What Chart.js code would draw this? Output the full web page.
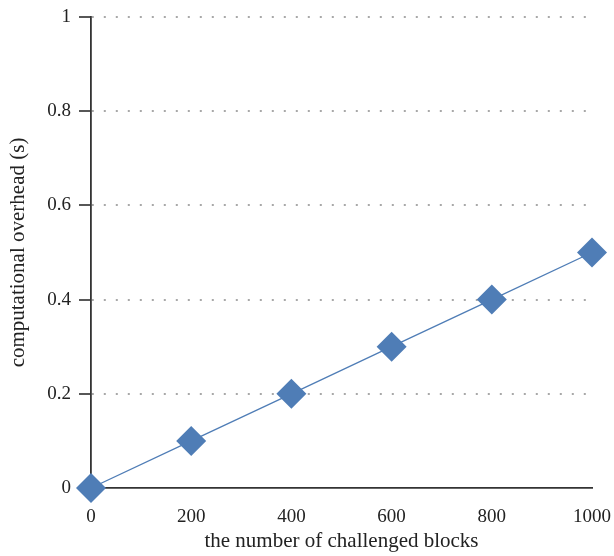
<!DOCTYPE html>
<html><head><meta charset="utf-8">
<script src="https://cdn.jsdelivr.net/npm/chart.js@4"></script>
<style>html,body{margin:0;padding:0;background:#fff}#wrap{width:614px;height:556px}</style>
</head><body><div id="wrap"><canvas id="c" width="614" height="556"></canvas></div>
<script>
const blocks = [0, 200, 400, 600, 800, 1000];
const overhead = [0, 0.1, 0.2, 0.3, 0.4, 0.5];
const yTicks = [0, 0.2, 0.4, 0.6, 0.8, 1];
const xTicks = [0, 200, 400, 600, 800, 1000];
const FONT = "'Liberation Serif', 'DejaVu Serif', serif";
const blue = '#4f7db6';
new Chart(document.getElementById('c'), {
  type: 'line',
  data: { datasets: [{
    data: blocks.map((b, i) => ({x: b, y: overhead[i]})),
    borderColor: blue, borderWidth: 1.3, backgroundColor: blue,
    pointStyle: 'rectRot', pointRadius: 15, pointHoverRadius: 15,
    pointBorderWidth: 0, clip: false, tension: 0
  }]},
  options: {
    responsive: false, animation: false,
    plugins: { legend: {display: false}, tooltip: {enabled: false} },
    layout: { padding: { left: 0, right: 22, top: 17, bottom: 0 } },
    scales: {
      x: {
        type: 'linear', min: 0, max: 1000,
        afterBuildTicks: s => { s.ticks = xTicks.map(v => ({value: v})); },
        afterFit: s => { s.height = 68; s.paddingLeft = 0; s.paddingRight = 0; },
        border: { display: true, color: '#333', width: 1.8 },
        grid: { display: false, drawTicks: false },
        ticks: { color: '#222', font: { family: FONT, size: 19 }, padding: 18, maxRotation: 0,
                 callback: v => String(v) },
        title: { display: true, text: 'the number of challenged blocks', color: '#222',
                 font: { family: FONT, size: 21 }, padding: { top: 0, bottom: 2 } }
      },
      y: {
        min: 0, max: 1,
        afterBuildTicks: s => { s.ticks = yTicks.map(v => ({value: v})); },
        afterFit: s => { s.width = 91; s.paddingTop = 0; s.paddingBottom = 0; },
        border: { display: true, color: '#333', width: 1.8, dash: [2, 10], dashOffset: 0 },
        grid: {
          color: ctx => ctx.tick && ctx.tick.value === 0 ? 'rgba(0,0,0,0)' : '#a8a8a8',
          lineWidth: 2,
          tickColor: '#444', tickLength: 12, tickWidth: 1.8, tickBorderDash: []
        },
        ticks: { color: '#222', font: { family: FONT, size: 19 }, padding: 8,
                 callback: v => String(v) },
        title: { display: true, text: 'computational overhead (s)', color: '#222',
                 font: { family: FONT, size: 21 }, padding: { top: 6, bottom: 0 } }
      }
    }
  }
});
</script></body></html>
